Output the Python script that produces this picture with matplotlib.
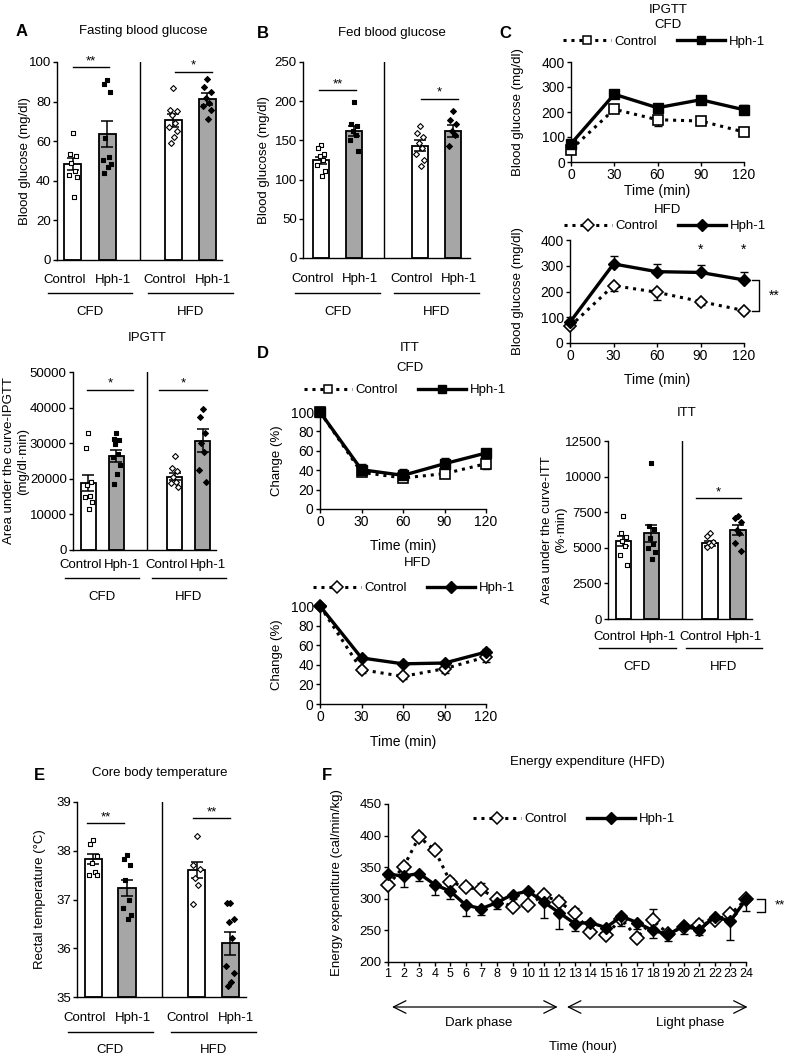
import numpy as np
import matplotlib.pyplot as plt
import matplotlib.transforms as mtransforms
from matplotlib.lines import Line2D

plt.rcParams['font.family'] = ['Liberation Sans', 'DejaVu Sans']

# ---------------- data ----------------
groups = ['Control', 'Hph-1', 'Control', 'Hph-1']
diets = ['CFD', 'HFD']

# A - fasting blood glucose
fast_means = [48.5, 63.5, 70.5, 81.3]
fast_sems = [3.0, 6.5, 3.2, 2.8]
fast_pts = [[64, 53.5, 52.5, 49, 45, 43, 42, 32],
            [91, 89, 85, 61.5, 52, 50.5, 48.5, 47, 44],
            [87, 76, 75, 73, 69, 67, 65, 62, 59],
            [91.4, 87.4, 85, 81.8, 79.4, 77.8, 75.8, 71.2]]

# A - IPGTT AUC
auc_gtt_means = [18900, 26400, 20600, 30700]
auc_gtt_sems = [2300, 1600, 1000, 3200]
auc_gtt_pts = [[32900, 28700, 19200, 18200, 15100, 14800, 13600, 11500],
               [32900, 31300, 31000, 29900, 27100, 26200, 23800, 21300, 18400],
               [26400, 22900, 22200, 20600, 19000, 18700, 17800],
               [39500, 37500, 33000, 30000, 27500, 22500, 19000]]

# B - fed blood glucose
fed_means = [124.6, 161.5, 143, 162]
fed_sems = [4.5, 6.5, 7, 7.5]
fed_pts = [[144.5, 140, 133, 130, 125, 118, 110.5, 104],
           [199, 171, 168, 161.5, 157, 151, 136],
           [168.8, 159, 154, 147, 140, 132.6, 125, 117.7],
           [187.5, 176, 170.5, 162, 157, 143]]

# C - IPGTT time course
gtt_time = [0, 30, 60, 90, 120]
gtt_cfd_ctrl = [50, 211, 169, 164, 120]
gtt_cfd_ctrl_err = [15, 12, 25, 8, 10]
gtt_cfd_hph = [73, 271, 217, 249, 209]
gtt_cfd_hph_err = [8, 8, 8, 8, 20]
gtt_hfd_ctrl = [64.5, 223, 197, 161, 126]
gtt_hfd_ctrl_err = [8, 20, 30, 15, 10]
gtt_hfd_hph = [81, 307, 277, 274, 245]
gtt_hfd_hph_err = [8, 29, 30, 30, 30]

# D - ITT time course
itt_time = [0, 30, 60, 90, 120]
itt_cfd_ctrl = [100, 37.8, 32, 36.4, 46.7]
itt_cfd_ctrl_err = [0, 4, 4, 3, 5]
itt_cfd_hph = [100, 40.5, 34.7, 46.7, 57.7]
itt_cfd_hph_err = [0, 6, 7, 6, 4]
itt_hfd_ctrl = [100, 35, 28.2, 36, 48]
itt_hfd_ctrl_err = [0, 3, 3, 4, 5]
itt_hfd_hph = [100, 47, 41, 41.8, 53]
itt_hfd_hph_err = [0, 2, 2, 2, 3]

# D - ITT AUC
auc_itt_means = [5478, 6016, 5314, 6250]
auc_itt_sems = [320, 620, 170, 330]
auc_itt_pts = [[7257, 6016, 5735, 5478, 5150, 4494, 3792],
               [10930, 6554, 6320, 5665, 5243, 4963, 4728, 4213],
               [6063, 5828, 5430, 5314, 5200, 5080],
               [7233, 7116, 6835, 6250, 6016, 5314, 4775]]

# E - core body temperature
temp_means = [37.83, 37.24, 37.6, 36.1]
temp_sems = [0.1, 0.17, 0.16, 0.23]
temp_pts = [[38.22, 38.13, 37.9, 37.75, 37.57, 37.5, 37.5],
            [37.92, 37.84, 37.7, 37.4, 37.0, 36.82, 36.68, 36.6],
            [38.3, 37.7, 37.63, 37.45, 37.3, 36.9],
            [36.92, 36.92, 36.6, 36.53, 36.2, 35.63, 35.5, 35.3, 35.22]]

# F - energy expenditure (HFD)
hours = list(range(1, 25))
ee_ctrl = [321.6, 350.6, 398, 377, 327, 318, 315, 299, 287, 290, 305.7, 295,
           277.7, 247.6, 243.3, 268, 238.6, 266, 245, 255.5, 258, 266, 275.6, 299]
ee_ctrl_err = [6, 6, 6, 6, 6, 6, 10, 6, 5, 5, 5, 8,
               8, 4, 4, 4, 4, 18, 4, 4, 8, 4, 6, 4]
ee_hph = [339, 336, 340, 322.6, 312, 290, 284.5, 294, 306.8, 312, 295, 278,
          260.8, 262.4, 254.4, 272.4, 262.4, 250, 243.9, 256.6, 251.3, 271.4, 265, 299]
ee_hph_err = [5, 18, 12, 17, 12, 17, 10, 10, 7, 5, 25, 25,
              12, 5, 5, 15, 10, 12, 10, 13, 8, 5, 30, 18]

# ---------------- figure ----------------
W, H = 788, 1055
fig = plt.figure(figsize=(W / 100, H / 100), dpi=100)


def add_ax(left, top, right, bottom):
    return fig.add_axes([left / W, 1 - bottom / H, (right - left) / W, (bottom - top) / H])


def ftext(x, y, s, **kw):
    kw.setdefault('ha', 'center')
    kw.setdefault('va', 'center')
    fig.text(x / W, 1 - y / H, s, **kw)


def below(ax, dy, dx=0):
    return ax.get_xaxis_transform() + mtransforms.ScaledTranslation(dx / 100, -dy / 100,
                                                                    fig.dpi_scale_trans)


def style_axes(ax, fs):
    for s in ['top', 'right']:
        ax.spines[s].set_visible(False)
    for s in ['left', 'bottom']:
        ax.spines[s].set_linewidth(1.0)
    ax.tick_params(labelsize=fs, length=3, width=1, direction='out', pad=1.5)


jit = [0.0, -0.1, 0.1, -0.05, 0.05, -0.12, 0.12, 0.02, -0.08]


def bar_panel(rect, means, sems, pts, pos, width, sep, xlim, ylim, yticks,
              ylabel, ylab_x, offs, gap, half, sigs, fs=9.5):
    ax = add_ax(*rect)
    style_axes(ax, fs)
    base = ylim[0]
    heights = [m - base for m in means]
    ax.bar(pos, heights, width, bottom=base, color=['white', '#a6a6a6', 'white', '#a6a6a6'],
           edgecolor='black', linewidth=1.3, zorder=2)
    ax.errorbar(pos, means, yerr=sems, fmt='none', ecolor='black', elinewidth=1.1,
                capsize=4, capthick=1.1, zorder=3)
    markers = ['s', 's', 'D', 'D']
    faces = ['white', 'black', 'white', 'black']
    for p, vals, m, fc in zip(pos, pts, markers, faces):
        xs = [p + jit[i % len(jit)] for i in range(len(vals))]
        ax.scatter(xs, vals, marker=m, s=11 if m == 's' else 9, facecolor=fc,
                   edgecolor='black', linewidth=0.8, zorder=4, clip_on=False)
    ax.axvline(sep, color='black', lw=1)
    ax.set_xlim(*xlim)
    ax.set_ylim(*ylim)
    ax.set_yticks(yticks)
    ax.set_xticks([])
    ax.set_ylabel(ylabel, fontsize=fs, va='center', ha='center')
    ax.yaxis.set_label_coords((ylab_x - rect[0]) / (rect[2] - rect[0]), 0.5)
    for i, d in enumerate(diets):
        c = (pos[2 * i] + pos[2 * i + 1]) / 2
        ax.text(c, 0, groups[2 * i], transform=below(ax, offs[0], -gap / 2), ha='right',
                va='center', fontsize=fs)
        ax.text(c, 0, groups[2 * i + 1], transform=below(ax, offs[0], gap / 2), ha='left',
                va='center', fontsize=fs)
        ax.plot([c - half, c + half], [0, 0], transform=below(ax, offs[1]), color='black',
                lw=1, clip_on=False)
        ax.text(c, 0, d, transform=below(ax, offs[2]), ha='center', va='center', fontsize=fs)
    for x0, x1, y, t in sigs:
        ax.plot([x0, x1], [y, y], color='black', lw=1)
        ax.text((x0 + x1) / 2, y, t, ha='center', va='bottom', fontsize=fs)
    return ax


def line_panel(rect, x, ctrl, ctrl_err, hph, hph_err, mk_c, mk_h, xlim, xticks, ylim, yticks,
               ylabel, ylab_x, fs=10, ms_c=7, ms_h=7, ctrl_up=False):
    ax = add_ax(*rect)
    style_axes(ax, fs)
    z = [0] * len(x)
    ce = [z, ctrl_err] if ctrl_up else [ctrl_err, z]
    he = [hph_err, z] if ctrl_up else [z, hph_err]
    ax.errorbar(x, ctrl, yerr=ce, fmt='none', ecolor='black', elinewidth=1, capsize=3,
                capthick=1, zorder=2, clip_on=False)
    ax.plot(x, ctrl, color='black', lw=2.2, linestyle=(0, (1, 1.6)), marker=mk_c, ms=ms_c,
            mfc='white', mec='black', mew=1.2, zorder=3, clip_on=False)
    ax.errorbar(x, hph, yerr=he, fmt='none', ecolor='black', elinewidth=1, capsize=3,
                capthick=1, zorder=4, clip_on=False)
    ax.plot(x, hph, color='black', lw=2.4, marker=mk_h, ms=ms_h, mfc='black', mec='black',
            zorder=5, clip_on=False)
    ax.set_xlim(*xlim)
    ax.set_xticks(xticks)
    ax.set_ylim(*ylim)
    ax.set_yticks(yticks)
    ax.set_ylabel(ylabel, fontsize=9.5, va='center', ha='center')
    ax.yaxis.set_label_coords((ylab_x - rect[0]) / (rect[2] - rect[0]), 0.5)
    return ax


def legend(ax, mk_c, mk_h, cx, cy, fs=9.5, ms=6):
    hs = [Line2D([], [], color='black', lw=2.2, linestyle=(0, (1, 1.6)), marker=mk_c, ms=ms,
                 mfc='white', mec='black', mew=1.1),
          Line2D([], [], color='black', lw=2.4, marker=mk_h, ms=ms, mfc='black')]
    ax.legend(hs, ['Control', 'Hph-1'], loc='center', bbox_to_anchor=(cx / W, 1 - cy / H),
              bbox_transform=fig.transFigure, ncol=2, frameon=False, fontsize=fs,
              handlelength=3.6, handletextpad=0.3, columnspacing=1.5, numpoints=1,
              borderaxespad=0, borderpad=0)


# ---- A ----
ftext(22, 32, 'A', fontsize=12, fontweight='bold')
ftext(143, 31, 'Fasting blood glucose', fontsize=9.5)
bar_panel((57, 62, 222, 260), fast_means, fast_sems, fast_pts, [0, 1, 2.95, 3.95], 0.5, 1.97,
          (-0.47, 4.38), (0, 100), [0, 20, 40, 60, 80, 100], 'Blood glucose (mg/dl)', 25,
          (20, 33, 52), 9, 1.24, [(0, 1.06, 97.5, '**'), (3.0, 4.1, 95, '*')])

ftext(147, 338, 'IPGTT', fontsize=9.5)
bar_panel((73, 372, 216, 550), auc_gtt_means, auc_gtt_sems, auc_gtt_pts, [0, 1, 3.07, 4.07], 0.54,
          2.09, (-0.55, 4.55), (0, 50000), [0, 10000, 20000, 30000, 40000, 50000],
          'Area under the curve-IPGTT\n(mg/dl\u00b7min)', 16, (15, 28, 47), 2, 1.32,
          [(-0.05, 1.59, 45000, '*'), (2.52, 4.23, 45000, '*')])

# ---- B ----
ftext(263, 33, 'B', fontsize=12, fontweight='bold')
ftext(392, 33, 'Fed blood glucose', fontsize=9.5)
bar_panel((303, 62, 470, 258), fed_means, fed_sems, fed_pts, [0, 1, 3.0, 4.0], 0.5, 1.9,
          (-0.55, 4.51), (0, 250), [0, 50, 100, 150, 200, 250], 'Blood glucose (mg/dl)', 264,
          (21, 35, 54), 8, 1.29, [(-0.06, 1.06, 214, '**'), (3.03, 4.15, 203, '*')])

# ---- C ----
ftext(505, 33, 'C', fontsize=12, fontweight='bold')
ftext(668, 10, 'IPGTT', fontsize=9.5)
ftext(668, 25, 'CFD', fontsize=9.5)
axc1 = line_panel((571, 62, 744, 162), gtt_time, gtt_cfd_ctrl, gtt_cfd_ctrl_err, gtt_cfd_hph,
                  gtt_cfd_hph_err, 's', 's', (0, 120), [0, 30, 60, 90, 120], (0, 400),
                  [0, 100, 200, 300, 400], 'Blood glucose (mg/dl)', 518)
legend(axc1, 's', 's', 664, 42)
ftext(657, 191, 'Time (min)', fontsize=10)

ftext(668, 210, 'HFD', fontsize=9.5)
axc2 = line_panel((570, 240, 744, 343), gtt_time, gtt_hfd_ctrl, gtt_hfd_ctrl_err, gtt_hfd_hph,
                  gtt_hfd_hph_err, 'D', 'D', (0, 120), [0, 30, 60, 90, 120], (0, 400),
                  [0, 100, 200, 300, 400], 'Blood glucose (mg/dl)', 518, ms_c=6.5, ms_h=6.5)
legend(axc2, 'D', 'D', 665, 226)
ftext(657, 380, 'Time (min)', fontsize=10)
for t in [90, 120]:
    axc2.text(t, 335, '*', ha='center', va='bottom', fontsize=10)
axc2.plot([125.5, 130.3, 130.3, 125.5], [245, 245, 126, 126], color='black', lw=1, clip_on=False)
axc2.text(141, 185, '**', ha='center', va='center', fontsize=10)

# ---- D ----
ftext(263, 353, 'D', fontsize=12, fontweight='bold')
ftext(410, 348, 'ITT', fontsize=9.5)
ftext(410, 368, 'CFD', fontsize=9.5)
axd1 = line_panel((320, 412, 486, 509), itt_time, itt_cfd_ctrl, itt_cfd_ctrl_err, itt_cfd_hph,
                  itt_cfd_hph_err, 's', 's', (0, 120), [0, 30, 60, 90, 120], (0, 100),
                  [0, 20, 40, 60, 80, 100], 'Change (%)', 277)
legend(axd1, 's', 's', 405, 390)
ftext(403, 546, 'Time (min)', fontsize=10)

ftext(418, 563, 'HFD', fontsize=9.5)
axd2 = line_panel((320, 606, 486, 704), itt_time, itt_hfd_ctrl, itt_hfd_ctrl_err, itt_hfd_hph,
                  itt_hfd_hph_err, 'D', 'D', (0, 120), [0, 30, 60, 90, 120], (0, 100),
                  [0, 20, 40, 60, 80, 100], 'Change (%)', 277, ms_c=6.5, ms_h=6.5)
legend(axd2, 'D', 'D', 414, 588)
ftext(403, 742, 'Time (min)', fontsize=10)

ftext(687, 413, 'ITT', fontsize=9.5)
bar_panel((608, 441, 752, 619), auc_itt_means, auc_itt_sems, auc_itt_pts, [0, 1, 3.09, 4.09], 0.54,
          2.09, (-0.55, 4.59), (0, 12500), [0, 2500, 5000, 7500, 10000, 12500],
          'Area under the curve-ITT\n(%\u00b7min)', 554, (18, 29, 48), 4, 1.36,
          [(2.58, 4.2, 8500, '*')])

# ---- E ----
ftext(39, 775, 'E', fontsize=12, fontweight='bold')
ftext(160, 773, 'Core body temperature', fontsize=9.5)
bar_panel((77, 802, 246, 997), temp_means, temp_sems, temp_pts, [0, 1, 3.08, 4.08], 0.51, 2.04,
          (-0.49, 4.55), (35, 39), [35, 36, 37, 38, 39], 'Rectal temperature (\u00b0C)', 40,
          (21, 35, 53), 9, 1.27, [(-0.19, 0.91, 38.56, '**'), (2.97, 4.07, 38.67, '**')])

# ---- F ----
ftext(327, 775, 'F', fontsize=12, fontweight='bold')
ftext(587, 762, 'Energy expenditure (HFD)', fontsize=9.5)
axf = line_panel((388, 804, 746, 962), hours, ee_ctrl, ee_ctrl_err, ee_hph, ee_hph_err,
                 'D', 'D', (1, 24), hours, (200, 450), [200, 250, 300, 350, 400, 450],
                 'Energy expenditure (cal/min/kg)', 337, fs=9.5, ms_c=7, ms_h=6.5, ctrl_up=True)
axf.tick_params(axis='x', labelsize=9)
legend(axf, 'D', 'D', 574, 819)
axf.plot([24.7, 25.2, 25.2, 24.7], [299, 299, 279, 279], color='black', lw=1, clip_on=False)
axf.text(26.2, 289, '**', ha='center', va='center', fontsize=9.5)
arrow = dict(arrowstyle='<->, head_length=0.9, head_width=0.45', lw=0.9, color='black',
             shrinkA=0, shrinkB=0)
axf.annotate('', xy=(11.9, 0), xytext=(1.26, 0), xycoords=below(axf, 45),
             textcoords=below(axf, 45), arrowprops=arrow)
axf.annotate('', xy=(24.1, 0), xytext=(12.5, 0), xycoords=below(axf, 45),
             textcoords=below(axf, 45), arrowprops=arrow)
axf.text(6.85, 0, 'Dark phase', transform=below(axf, 61), ha='center', va='center', fontsize=9.5)
axf.text(20.4, 0, 'Light phase', transform=below(axf, 61), ha='center', va='center', fontsize=9.5)
axf.text(13.5, 0, 'Time (hour)', transform=below(axf, 85), ha='center', va='center', fontsize=9.5)

fig.savefig('out.png', dpi=100)
